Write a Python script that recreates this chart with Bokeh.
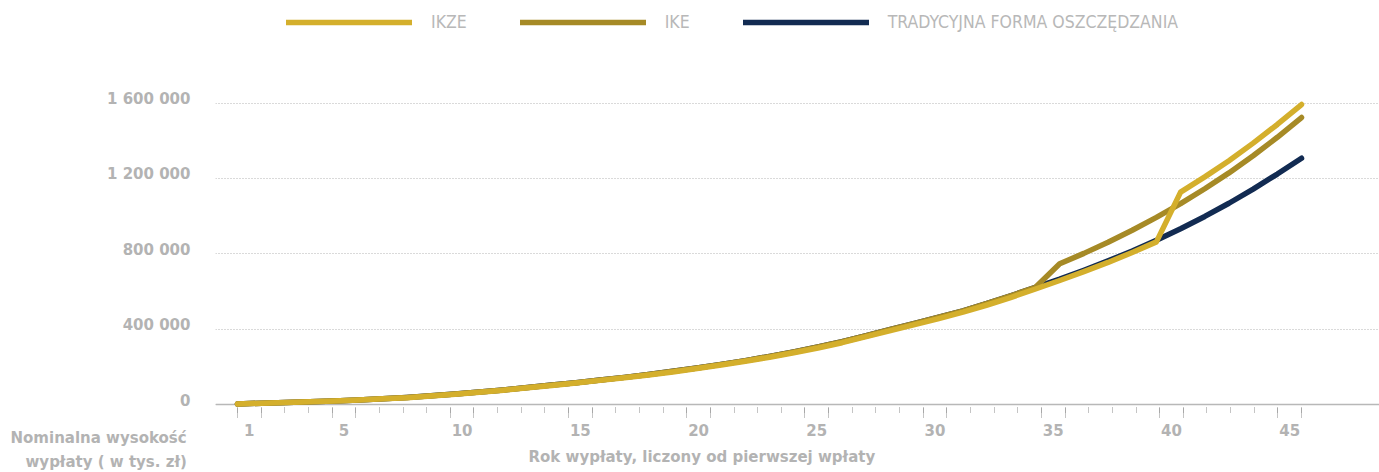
from bokeh.plotting import figure
from bokeh.models import (Range1d, FixedTicker, LinearAxis, Span, Legend,
                          LegendItem, Title)
from bokeh.embed import file_html
from bokeh.resources import INLINE

# ---------------- data ----------------
years = list(range(1, 46))

ikze = [3000, 7000, 11000, 15000, 19000, 24000, 30000, 36000, 45000, 55000,
        65000, 76000, 89000, 101000, 114000, 128000, 142000, 157000, 173000, 191000,
        210000, 230000, 251000, 275000, 300000, 328000, 360000, 392000, 424000, 456000,
        490000, 528000, 569000, 613000, 658000, 705000, 754000, 807000, 863000, 1127000,
        1208000, 1294000, 1387000, 1486000, 1592000]

ike = [3000, 7000, 11000, 15000, 19000, 24000, 30000, 37000, 46000, 56000,
       66000, 77000, 90000, 103000, 116000, 130000, 144000, 159000, 176000, 194000,
       213000, 233000, 255000, 279000, 305000, 333000, 365000, 398000, 430000, 463000,
       497000, 536000, 578000, 622000, 747000, 802000, 861000, 925000, 993000, 1066000,
       1145000, 1229000, 1320000, 1418000, 1523000]

trad = [3000, 7000, 11000, 15000, 19000, 24000, 30000, 37000, 46000, 56000,
        66000, 77000, 90000, 103000, 116000, 130000, 144000, 159000, 176000, 194000,
        213000, 233000, 255000, 279000, 305000, 333000, 365000, 398000, 430000, 463000,
        497000, 536000, 578000, 622000, 665000, 712000, 762000, 815000, 872000, 933000,
        998000, 1068000, 1143000, 1223000, 1307000]

labeled_years = [1, 5, 10, 15, 20, 25, 30, 35, 40, 45]
y_ticks = [0, 400000, 800000, 1200000, 1600000]
y_tick_labels = ["0", "400 000", "800 000", "1 200 000", "1 600 000"]
series_names = ["IKZE", "IKE", "TRADYCYJNA FORMA OSZCZĘDZANIA"]
colors = ["#D4AF2C", "#A68A26", "#122B52"]

x_title = "Rok wypłaty, liczony od pierwszej wpłaty"
y_title_1 = "Nominalna wysokość"
y_title_2 = "wypłaty ( w tys. zł)"

# ---------------- figure ----------------
W, H = 1379, 472
FRAME_LEFT, FRAME_BOTTOM = 215, 407
TEXT = "#b3b3b3"
FONT = "DejaVu Sans"

p = figure(width=W, height=H, output_backend="svg", toolbar_location=None,
           x_range=Range1d(0.09, 48.225), y_range=Range1d(-15920, 2101500),
           min_border_left=FRAME_LEFT, min_border_right=0, min_border_top=8,
           min_border_bottom=H - FRAME_BOTTOM, background_fill_color="white",
           border_fill_color="white")
p.outline_line_color = None
p.xgrid.visible = False

p.ygrid.ticker = FixedTicker(ticks=y_ticks)
p.ygrid.grid_line_color = "#b5b5b5"
p.ygrid.grid_line_dash = "1 2"
p.ygrid.grid_line_width = 1

lab_shift = 21000
ya = p.yaxis[0]
ya.ticker = FixedTicker(ticks=[t + lab_shift for t in y_ticks])
ya.major_label_overrides = {t + lab_shift: s for t, s in zip(y_ticks, y_tick_labels)}
ya.axis_line_color = None
ya.major_tick_line_color = None
ya.minor_tick_line_color = None
ya.major_label_standoff = 19
ya.major_label_text_font = FONT
ya.major_label_text_font_style = "bold"
ya.major_label_text_font_size = "15px"
ya.major_label_text_color = TEXT

p.add_layout(Span(location=0, dimension="width", line_color="#b8b8b8",
                  line_width=1.5, level="underlay"))

n = len(years)
step = (years[-1] - years[0]) / n
bounds = [years[0] + k * step for k in range(n + 1)]
long_bounds = sorted(set([bounds[y - 1] for y in labeled_years] + [bounds[y] for y in labeled_years]))
centers = {y: years[0] + (y - 0.5) * step for y in labeled_years}

xa = p.xaxis[0]
xa.ticker = FixedTicker(ticks=long_bounds, minor_ticks=bounds)
xa.axis_line_color = None
xa.major_tick_in = 0
xa.major_tick_out = 10
xa.minor_tick_in = 0
xa.minor_tick_out = 5
xa.major_tick_line_color = "#8a8a8a"
xa.minor_tick_line_color = "#8a8a8a"
xa.major_tick_line_dash = "1 1"
xa.minor_tick_line_dash = "1 1"
xa.major_label_overrides = {b: "" for b in long_bounds}
xa.major_label_text_font_size = "1px"
xa.major_label_standoff = 0

xb = LinearAxis(ticker=FixedTicker(ticks=list(centers.values())),
                major_label_overrides={c: str(y) for y, c in centers.items()})
xb.axis_line_color = None
xb.major_tick_line_color = None
xb.minor_tick_line_color = None
xb.major_label_standoff = 0
xb.major_label_text_font = FONT
xb.major_label_text_font_style = "bold"
xb.major_label_text_font_size = "15px"
xb.major_label_text_color = TEXT
p.add_layout(xb, "below")

r_trad = p.line(years, trad, line_width=5.5, line_color=colors[2],
                line_cap="round", line_join="round")
r_ike = p.line(years, ike, line_width=5.5, line_color=colors[1],
               line_cap="round", line_join="round")
r_ikze = p.line(years, ikze, line_width=5.5, line_color=colors[0],
                line_cap="round", line_join="round")

legend = Legend(items=[LegendItem(label=series_names[0], renderers=[r_ikze]),
                       LegendItem(label=series_names[1], renderers=[r_ike]),
                       LegendItem(label=series_names[2], renderers=[r_trad])],
                orientation="horizontal", location=(71, 375),
                padding=0, margin=0, spacing=53, glyph_width=126,
                glyph_height=16, label_standoff=19,
                background_fill_alpha=0, border_line_color=None,
                label_text_font="DejaVu Sans Condensed",
                label_text_font_size="17.5px", label_text_color="#b8b8b8")
p.add_layout(legend)

# ---------------- axis titles (title rows in the panel below the plot) ----------------
tstyle = dict(text_font=FONT, text_font_style="bold", text_font_size="15px",
              text_color=TEXT, align="left")
p.add_layout(Title(text=y_title_1, offset=10 - FRAME_LEFT, standoff=-19,
                   vertical_align="top", **tstyle), "below")
p.add_layout(Title(text=x_title, offset=528 - FRAME_LEFT, standoff=12,
                   vertical_align="bottom", **tstyle), "below")
p.add_layout(Title(text=y_title_2, offset=25 - FRAME_LEFT, standoff=-37,
                   vertical_align="top", **tstyle), "below")

open("out.html", "w").write(file_html(p, INLINE))
